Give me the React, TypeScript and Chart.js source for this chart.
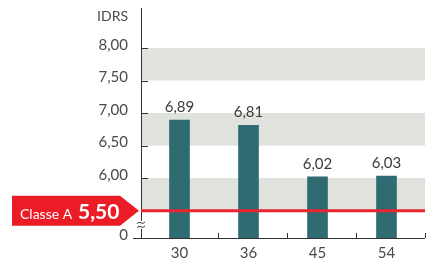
import { useEffect, useRef } from "react";
import { Chart, registerables } from "chart.js";

Chart.register(...registerables);

const categories = ["30", "36", "45", "54"];
const idrsValues = [6.89, 6.81, 6.02, 6.03];
const yTickValues = [6.0, 6.5, 7.0, 7.5, 8.0];
const bandRanges = [
  [5.5, 6.0],
  [6.5, 7.0],
  [7.5, 8.0],
];
const thresholdValue = 5.5;
const thresholdName = "Classe A";
const unitLabel = "IDRS";
const axisMin = 5.08;
const axisMax = 8.614;

const FONT = "Lato";
const fmt = (v: number) => v.toFixed(2).replace(".", ",");

const decorPlugin = {
  id: "decor",
  beforeDatasetsDraw(chart: any) {
    const { ctx, chartArea, scales } = chart;
    const y = scales.y;
    const x = scales.x;
    const L = chartArea.left - 4;
    const R = chartArea.right + 4;
    const B = chartArea.bottom;
    ctx.save();
    ctx.fillStyle = "#e0e2de";
    bandRanges.forEach(([a, b]) => {
      const pa = y.getPixelForValue(a);
      const pb = y.getPixelForValue(b);
      ctx.fillRect(L, pb, R - L, pa - pb);
    });
    ctx.strokeStyle = "#333";
    ctx.lineWidth = 1;
    ctx.beginPath();
    ctx.moveTo(L + 0.5, chartArea.top);
    ctx.lineTo(L + 0.5, B);
    ctx.stroke();
    yTickValues.forEach((v) => {
      const p = Math.round(y.getPixelForValue(v)) + 0.5;
      ctx.beginPath();
      ctx.moveTo(L, p);
      ctx.lineTo(L + 7, p);
      ctx.stroke();
    });
    ctx.beginPath();
    ctx.moveTo(L - 8, Math.round(B) + 0.5);
    ctx.lineTo(L, Math.round(B) + 0.5);
    ctx.stroke();
    ctx.beginPath();
    ctx.moveTo(L, Math.round(B) + 0.5);
    ctx.lineTo(R, Math.round(B) + 0.5);
    ctx.stroke();
    const half = (x.getPixelForValue(1) - x.getPixelForValue(0)) / 2;
    categories.forEach((_, i) => {
      const px = Math.round(x.getPixelForValue(i) + half + 4) + 0.5;
      ctx.beginPath();
      ctx.moveTo(px, B);
      ctx.lineTo(px, B - 5);
      ctx.stroke();
    });
    ctx.restore();
  },
  afterDatasetsDraw(chart: any) {
    const { ctx, chartArea, scales } = chart;
    const y = scales.y;
    const x = scales.x;
    const L = chartArea.left - 4;
    const R = chartArea.right + 4;
    const B = chartArea.bottom;
    const ty = y.getPixelForValue(thresholdValue);
    ctx.save();
    ctx.fillStyle = "#3c3c3c";
    ctx.font = `15px ${FONT}`;
    ctx.textAlign = "center";
    ctx.textBaseline = "alphabetic";
    idrsValues.forEach((v, i) => {
      ctx.fillText(fmt(v), x.getPixelForValue(i), y.getPixelForValue(v) - 8);
    });
    ctx.strokeStyle = "#ec2530";
    ctx.lineWidth = 3;
    ctx.beginPath();
    ctx.moveTo(L, ty);
    ctx.lineTo(R, ty);
    ctx.stroke();
    ctx.fillStyle = "#ec1c27";
    ctx.beginPath();
    ctx.moveTo(12, ty - 15);
    ctx.lineTo(120, ty - 15);
    ctx.lineTo(L - 2, ty);
    ctx.lineTo(120, ty + 15);
    ctx.lineTo(12, ty + 15);
    ctx.closePath();
    ctx.fill();
    ctx.fillStyle = "#ffffff";
    ctx.textAlign = "left";
    ctx.textBaseline = "alphabetic";
    ctx.font = `14px ${FONT}`;
    ctx.fillText(thresholdName, 20, ty + 8.5);
    ctx.font = `bold 21px ${FONT}`;
    ctx.fillText(fmt(thresholdValue), 78, ty + 8.5);
    const by = (ty + B) / 2 + 0.5;
    ctx.fillStyle = "#ffffff";
    ctx.fillRect(L - 3, by - 4, 7, 8);
    ctx.strokeStyle = "#333";
    ctx.lineWidth = 1;
    [-2, 2].forEach((k) => {
      ctx.beginPath();
      ctx.moveTo(L - 4, by + k + 1);
      ctx.bezierCurveTo(L - 1, by + k - 3, L + 1, by + k + 3, L + 4, by + k - 1);
      ctx.stroke();
    });
    ctx.fillStyle = "#4a4a4a";
    ctx.font = `14px ${FONT}`;
    ctx.textAlign = "right";
    ctx.textBaseline = "middle";
    ctx.fillText(unitLabel, 128, chartArea.top + 8);
    ctx.restore();
  },
};

export default function App() {
  const ref = useRef<HTMLCanvasElement | null>(null);
  useEffect(() => {
    if (!ref.current) return;
    const chart = new Chart(ref.current, {
      type: "bar",
      data: {
        labels: categories,
        datasets: [
          {
            data: idrsValues,
            backgroundColor: "#2f6c71",
            barThickness: 20,
          },
        ],
      },
      options: {
        responsive: false,
        animation: false,
        devicePixelRatio: 1,
        layout: { padding: { top: 8, right: 14, left: 0, bottom: 0 } },
        plugins: {
          legend: { display: false },
          tooltip: { enabled: false },
        },
        scales: {
          x: {
            grid: { display: false, drawTicks: false },
            border: { display: false },
            ticks: {
              color: "#4a4a4a",
              font: { family: FONT, size: 15 },
              padding: 6,
            },
            afterFit: (s: any) => {
              s.height = 25;
              s.paddingLeft = 0;
              s.paddingRight = 0;
            },
          },
          y: {
            min: axisMin,
            max: axisMax,
            grid: { display: false, drawTicks: false },
            border: { display: false },
            afterBuildTicks: (s: any) => {
              s.ticks = [axisMin, ...yTickValues].map((v) => ({ value: v }));
            },
            ticks: {
              color: "#4a4a4a",
              font: { family: FONT, size: 15 },
              padding: 17,
              labelOffset: -3,
              callback: (v: any, i: number) => (i === 0 ? "0" : fmt(Number(v))),
            },
            afterFit: (s: any) => {
              s.width = 145;
              s.paddingTop = 0;
              s.paddingBottom = 0;
            },
          },
        },
      },
      plugins: [decorPlugin],
    });
    return () => chart.destroy();
  }, []);
  return (
    <div style={{ position: "fixed", left: 0, top: 0, width: 435, height: 263 }}>
      <canvas ref={ref} width={435} height={263} />
    </div>
  );
}
